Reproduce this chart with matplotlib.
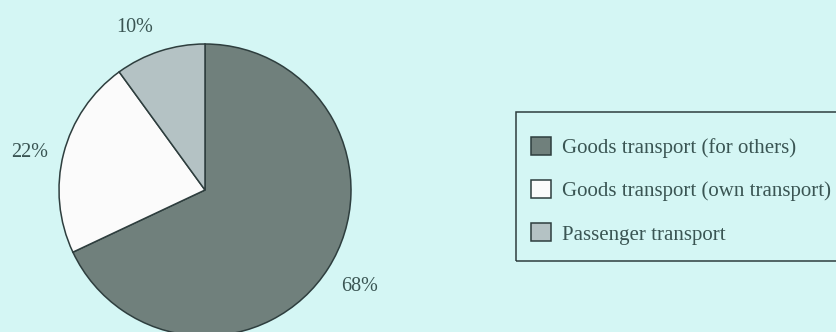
import matplotlib
matplotlib.use("Agg")
import matplotlib.pyplot as plt
from matplotlib.patches import Rectangle
import numpy as np

# Data
categories = ["Goods transport (for others)",
              "Goods transport (own transport)",
              "Passenger transport"]
shares = [68, 22, 10]

# Styles
bg = "#d4f6f4"
slice_colors = ["#70807c", "#fbfbfb", "#b4c2c4"]
edge = "#2e3e3e"
text_color = "#3a5553"
font = ["Liberation Serif", "DejaVu Serif"]
label_dist = [1.25, 1.225, 1.21]      # radial distance of each % label
label_shift = [0.5, 2.4, 5.4]         # degrees added to slice mid-angle

W, H = 837, 332
fig = plt.figure(figsize=(W / 100, H / 100), dpi=100, facecolor=bg)

cx, cy, r = 205, 190, 146
ax = fig.add_axes([(cx - r) / W, (H - cy - r) / H, 2 * r / W, 2 * r / H])
ax.set_facecolor("none")

wedges, texts = ax.pie(
    shares, colors=slice_colors, startangle=90, counterclock=False,
    radius=1.0, wedgeprops=dict(edgecolor=edge, linewidth=1.1),
)
ax.set_xlim(-1, 1)
ax.set_ylim(-1, 1)
ax.axis("off")
for w in wedges:
    w.set_clip_on(False)

for w, v, d, s in zip(wedges, shares, label_dist, label_shift):
    ang = np.deg2rad((w.theta1 + w.theta2) / 2 + s)
    ax.text(d * np.cos(ang), d * np.sin(ang), f"{v}%", ha="center", va="center",
            fontfamily=font, fontsize=14.5, color=text_color, clip_on=False)

leg = fig.legend(
    wedges, categories, loc="upper left",
    bbox_to_anchor=(531 / W, (H - 137) / H), bbox_transform=fig.transFigure,
    borderaxespad=0, borderpad=0, labelspacing=1.06,
    handlelength=0.95, handleheight=0.95, handletextpad=0.55,
    prop=dict(family=font, size=15), labelcolor=text_color,
    frameon=False,
)

# legend frame
fig.patches.append(Rectangle((516 / W, (H - 261) / H), 340 / W, 149 / H,
                             transform=fig.transFigure, fill=False,
                             edgecolor=edge, linewidth=1.1))

fig.savefig("out.png", dpi=100, facecolor=bg)
